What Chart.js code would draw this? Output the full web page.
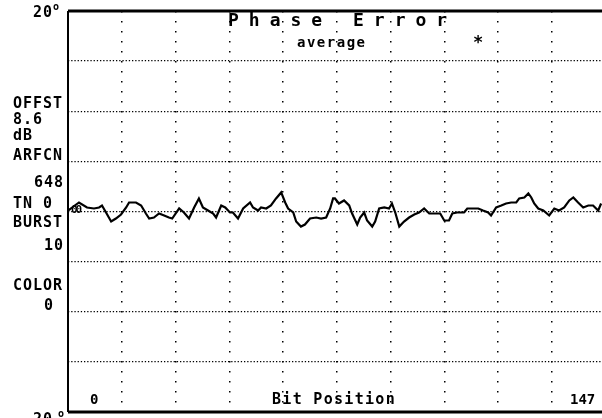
<!DOCTYPE html>
<html>
<head>
<meta charset="utf-8">
<script src="https://cdn.jsdelivr.net/npm/chart.js@4"></script>
<style>
  html, body { margin: 0; padding: 0; background: #fff; overflow: hidden; }
  #wrap { width: 602px; height: 418px; overflow: hidden; position: relative; }
  canvas { display: block; }
</style>
</head>
<body>
<div id="wrap"><canvas id="phase" width="612" height="418"></canvas></div>
<script>
// phase error trace (bit position -> degrees)
const bitPos = [0, 3.0, 5.2, 7.1, 8.5, 9.3, 10.4, 11.8, 13.1, 14.5, 15.9, 16.7, 18.6, 20.0, 21.3, 22.2, 23.5, 24.9, 26.3, 27.6,
  28.5, 30.4, 31.7, 33.1, 34.5, 35.8, 36.9, 38.3, 39.7, 40.5, 41.9, 43.0, 44.3, 45.1, 46.5, 47.9, 49.8, 50.6, 52.0, 52.8,
  54.2, 55.5, 56.9, 58.3, 59.4, 60.2, 61.6, 62.4, 63.7, 64.8, 66.2, 67.9, 69.2, 70.6, 71.7, 72.5, 73.0, 74.1, 75.5, 76.9,
  77.7, 79.1, 79.9, 81.0, 81.8, 83.2, 84.0, 85.1, 86.5, 87.8, 88.6, 89.5, 90.6, 91.9, 93.3, 94.7, 96.0, 97.4, 98.8, 100.4,
  101.8, 102.9, 104.2, 105.1, 106.4, 108.3, 109.2, 110.8, 112.2, 113.5, 114.9, 115.7, 117.1, 118.5, 119.8, 121.2, 122.6, 123.4, 124.8, 125.9,
  126.7, 127.5, 128.6, 130.0, 131.6, 133.0, 134.3, 135.7, 137.1, 138.2, 139.5, 140.9, 142.3, 143.6, 145.0, 145.8];
const phaseDeg = [0.1, 0.9, 0.4, 0.3, 0.4, 0.6, -0.1, -1.0, -0.7, -0.3, 0.4, 0.9, 0.9, 0.6, -0.2, -0.7, -0.6, -0.2, -0.4, -0.6,
  -0.7, 0.3, -0.1, -0.7, 0.4, 1.3, 0.4, 0.1, -0.2, -0.6, 0.6, 0.4, -0.1, -0.1, -0.7, 0.3, 0.9, 0.4, 0.1, 0.4,
  0.3, 0.6, 1.3, 1.9, 0.9, 0.3, -0.1, -1.0, -1.5, -1.3, -0.7, -0.6, -0.7, -0.6, 0.3, 1.3, 1.3, 0.8, 1.1, 0.6,
  -0.2, -1.3, -0.6, -0.1, -0.9, -1.5, -1.0, 0.3, 0.4, 0.3, 0.8, -0.1, -1.5, -1.0, -0.6, -0.3, -0.1, 0.3, -0.2, -0.2,
  -0.2, -0.9, -0.9, -0.2, -0.1, -0.1, 0.3, 0.3, 0.3, 0.1, -0.1, -0.4, 0.4, 0.6, 0.8, 0.9, 0.9, 1.3, 1.4, 1.8,
  1.4, 0.8, 0.3, 0.1, -0.4, 0.3, 0.1, 0.4, 1.1, 1.4, 0.9, 0.4, 0.6, 0.6, 0.1, 0.8];

const gridBits = [0, 14.7, 29.4, 44.1, 58.8, 73.5, 88.2, 102.9, 117.6, 132.3, 147];
const gridDeg = [-20, -15, -10, -5, 0, 5, 10, 15, 20];

const sideLabels = ['OFFST', '8.6', 'dB', 'ARFCN', '648', 'TN 0', 'BURST', '10', 'COLOR', '0'];
const axisLabels = ['20', '-20', '0', 'Bit Position', '147'];
const titleText = 'Phase Error';
const modeText = 'average';

const MONO = '"DejaVu Sans Mono", "Liberation Mono", monospace';

const screenText = {
  id: 'screenText',
  afterDraw(chart) {
    const ctx = chart.ctx;
    const a = chart.chartArea;
    ctx.save();
    ctx.fillStyle = '#000';
    ctx.strokeStyle = '#000';

    // frame: heavy top & bottom, thin left
    ctx.lineWidth = 3;
    ctx.beginPath(); ctx.moveTo(a.left, a.top); ctx.lineTo(a.right, a.top); ctx.stroke();
    ctx.beginPath(); ctx.moveTo(a.left, a.bottom); ctx.lineTo(a.right, a.bottom); ctx.stroke();
    ctx.lineWidth = 2;
    ctx.beginPath(); ctx.moveTo(a.left, a.top); ctx.lineTo(a.left, a.bottom); ctx.stroke();

    const txt = (s, x, y, size, align, spacing) => {
      ctx.font = 'bold ' + size + 'px ' + MONO;
      ctx.textAlign = align || 'left';
      ctx.letterSpacing = (spacing || 0) + 'px';
      ctx.fillText(s, x, y);
    };

    // y range labels with degree mark
    txt(axisLabels[0], 33, 17, 15, 'left', 1);
    txt('o', 53, 10, 10, 'left');
    txt(axisLabels[1], 23, 424, 15, 'left', 1);
    txt('o', 58, 417, 10, 'left');

    // status column
    const rows = [[13, 108, 'left'], [13, 124, 'left'], [13, 140, 'left'], [13, 160, 'left'], [64, 187, 'right'],
      [13, 208, 'left'], [13, 227, 'left'], [64, 250, 'right'], [13, 290, 'left'], [54, 310, 'right']];
    sideLabels.forEach((s, i) => txt(s, rows[i][0], rows[i][1], 15, rows[i][2], 1));

    // title + mode
    txt(titleText, 228, 26, 18, 'left', 10);
    txt(modeText, 297, 47, 14, 'left', 1.5);
    txt('*', 473, 48, 17, 'left');

    // x labels along the bottom
    txt(axisLabels[2], 90, 404, 14, 'left');
    txt(axisLabels[3], 272, 404, 15, 'left', 1.3);
    txt(axisLabels[4], 570, 404, 14, 'left');

    // start-of-burst marker
    txt('00', 71, 213, 11, 'left', -2);
    ctx.restore();
  }
};

new Chart(document.getElementById('phase'), {
  type: 'line',
  data: {
    datasets: [{
      data: bitPos.map((b, i) => ({ x: b, y: phaseDeg[i] })),
      borderColor: '#000',
      borderWidth: 2.2,
      pointRadius: 0,
      tension: 0,
      fill: false
    }]
  },
  options: {
    responsive: false,
    animation: false,
    events: [],
    layout: { padding: { left: 68, top: 11, right: 6.5, bottom: 6 } },
    plugins: { legend: { display: false }, tooltip: { enabled: false } },
    scales: {
      x: {
        type: 'linear', min: 0, max: 147,
        afterBuildTicks: s => { s.ticks = gridBits.map(v => ({ value: v })); },
        ticks: { display: false },
        grid: { color: '#000', lineWidth: 1.5, drawTicks: false },
        border: { display: false, dash: [1.5, 8.5] }
      },
      y: {
        min: -20, max: 20,
        afterBuildTicks: s => { s.ticks = gridDeg.map(v => ({ value: v })); },
        ticks: { display: false },
        grid: { color: '#000', lineWidth: 1.3, drawTicks: false },
        border: { display: false, dash: [1.3, 1.9] }
      }
    }
  },
  plugins: [screenText]
});
</script>
</body>
</html>
